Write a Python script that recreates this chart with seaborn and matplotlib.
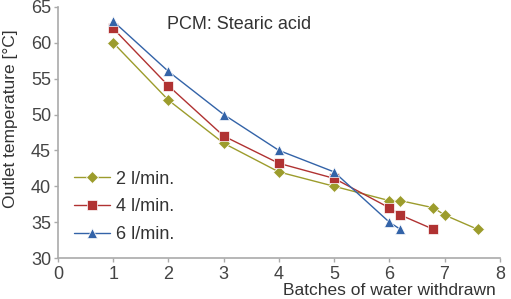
import pandas as pd
import matplotlib.pyplot as plt
import seaborn as sbn

# valores
x_2 = [1, 2, 3, 4, 5, 6, 6.2, 6.8, 7, 7.6]
t_2 = [60, 52, 46, 42, 40, 38, 38, 37, 36, 34]
x_4 = [1, 2, 3, 4, 5, 6, 6.2, 6.8]
t_4 = [62, 54, 47, 43.2, 41.1, 37, 36, 34]
x_6 = [1, 2, 3, 4, 5, 6, 6.2]
t_6 = [63, 56, 50, 45, 42, 35, 34]
caudales = ["2 l/min.", "4 l/min.", "6 l/min."]
colores = ["#9c9c2c", "#b03232", "#3363a8"]
marcadores = ["D", "s", "^"]

df = pd.concat([
    pd.DataFrame({"x": x_2, "t": t_2, "caudal": caudales[0]}),
    pd.DataFrame({"x": x_4, "t": t_4, "caudal": caudales[1]}),
    pd.DataFrame({"x": x_6, "t": t_6, "caudal": caudales[2]}),
])

sbn.set_style("white")
plt.rcParams["font.family"] = ["Liberation Sans", "DejaVu Sans"]

fig = plt.figure(figsize = (5.11, 2.99), dpi = 100)
ax = fig.add_axes([0.1135, 0.137, 0.8645, 0.84])
sbn.lineplot(data = df, x = "x", y = "t", hue = "caudal", style = "caudal",
             palette = dict(zip(caudales, colores)),
             markers = dict(zip(caudales, marcadores)), dashes = False,
             markersize = 6.5, markeredgewidth = 0.5, linewidth = 1.0,
             sort = False, ax = ax)

ax.set_xlim(0, 8)
ax.set_ylim(30, 65)
ax.set_xticks(range(0, 9))
ax.set_yticks(range(30, 66, 5))
for lado in ["top", "right"]:
    ax.spines[lado].set_visible(False)
for lado in ["left", "bottom"]:
    ax.spines[lado].set_color("#aaaaaa")
    ax.spines[lado].set_linewidth(1.2)
ax.tick_params(axis = "both", labelsize = 13, labelcolor = "#444444", color = "#aaaaaa",
               length = 3, width = 1, bottom = True, left = True, pad = 2)
ax.tick_params(axis = "x", pad = 3)

ax.set_xlabel("Batches of water withdrawn", fontsize = 12.5, color = "#333333", labelpad = 0)
ax.xaxis.set_label_coords(0.99, -0.148)
ax.xaxis.label.set_horizontalalignment("right")
ax.xaxis.label.set_verticalalignment("baseline")
ax.set_ylabel("Outlet temperature [°C]", fontsize = 12.5, color = "#333333")
ax.yaxis.set_label_coords(-0.09, 0.555)

ax.text(0.247, 0.93, "PCM: Stearic acid", transform = ax.transAxes,
        fontsize = 13, color = "#333333", va = "center")

ax.legend(loc = "lower left", bbox_to_anchor = (0.02, 0.03), frameon = False,
          fontsize = 13, handlelength = 2, labelcolor = "#333333",
          handletextpad = 0.3, labelspacing = 0.6, borderaxespad = 0)

plt.savefig("out.png", dpi = 100)
plt.close()
